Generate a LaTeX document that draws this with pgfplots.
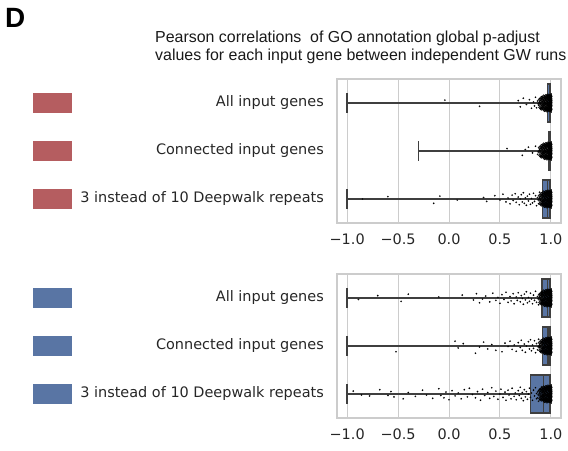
\documentclass[border=0pt]{standalone}
\usepackage{pgfplots}
\pgfplotsset{compat=1.18}
\usepackage{pgfplotstable}
\usepgfplotslibrary{statistics}
\usepackage{fontspec}
\setmainfont{DejaVu Sans}
\newfontfamily\arial{Liberation Sans}
\definecolor{boxblue}{HTML}{5975A4}
\definecolor{patchred}{HTML}{B55D60}
\definecolor{edgegray}{HTML}{3F3F3F}
\definecolor{gridgray}{HTML}{CCCCCC}
\definecolor{labelgray}{HTML}{262626}

% dense cluster near 1 (x, vertical jitter)
\pgfplotstableread{
x dy
0.885 0.02
0.890 -0.07
0.895 0.09
0.900 -0.03
0.905 0.12
0.908 -0.11
0.912 0.04
0.915 -0.06
0.918 0.10
0.920 0.05
0.922 -0.09
0.925 0.12
0.928 -0.02
0.930 -0.14
0.933 0.08
0.936 -0.06
0.938 0.15
0.940 0.01
0.942 -0.12
0.945 0.10
0.947 -0.04
0.950 0.14
0.952 -0.15
0.954 0.04
0.956 -0.09
0.958 0.11
0.960 -0.01
0.962 0.16
0.964 -0.13
0.966 0.07
0.968 -0.06
0.970 0.13
0.972 -0.16
0.974 0.02
0.976 -0.10
0.978 0.09
0.980 -0.03
0.982 0.15
0.984 -0.14
0.986 0.05
0.988 -0.07
0.990 0.12
0.991 -0.12
0.992 0.00
0.993 0.16
0.994 -0.05
0.995 0.08
0.996 -0.16
0.997 0.03
0.998 0.11
0.998 -0.09
0.999 -0.02
1.000 0.14
1.000 -0.13
1.000 0.06
1.000 -0.06
1.000 0.00
0.985 0.10
0.975 -0.12
0.965 0.02
0.955 0.12
0.945 -0.10
0.935 0.03
}\core

\pgfplotstableread{
x y
-0.04 -0.06
0.30 0.07
0.68 -0.05
0.70 0.08
0.73 -0.10
0.76 0.03
0.79 -0.07
0.81 0.11
0.83 -0.02
0.84 0.06
0.85 -0.12
0.86 0.10
0.87 -0.04
0.88 0.05
0.89 -0.09
0.90 0.01
0.90 0.12
0.91 -0.13
0.92 0.08
0.92 -0.03
0.57 0.95
0.72 1.09
0.75 0.97
0.78 0.92
0.82 1.04
0.85 0.90
0.87 1.07
0.89 0.98
0.90 1.11
0.91 0.94
0.92 1.03
0.93 0.88
-0.85 2.00
-0.60 1.95
-0.15 2.09
-0.09 1.94
0.08 2.02
0.34 1.97
0.37 2.05
0.45 1.93
0.50 2.02
0.53 1.90
0.56 2.06
0.58 1.98
0.60 2.10
0.62 1.92
0.63 2.03
0.65 1.89
0.66 2.07
0.68 1.96
0.69 2.12
0.70 2.00
0.71 1.91
0.72 2.06
0.73 1.87
0.74 2.09
0.75 1.98
0.76 2.13
0.77 1.94
0.78 2.04
0.79 1.90
0.80 2.11
0.81 1.99
0.82 2.08
0.83 1.88
0.84 2.05
0.85 1.93
0.86 2.14
0.87 1.97
0.88 2.10
0.89 1.86
0.90 2.02
}\toptail

\pgfplotstableread{
x y
-0.89 0.03
-0.70 -0.05
-0.47 0.07
-0.40 -0.08
-0.10 -0.02
0.13 -0.06
0.24 0.04
0.27 -0.09
0.30 0.10
0.33 0.02
0.36 -0.04
0.40 0.08
0.43 -0.10
0.46 0.05
0.48 -0.01
0.50 0.11
0.52 -0.07
0.54 0.03
0.56 -0.12
0.58 0.09
0.60 -0.03
0.61 0.06
0.63 -0.09
0.64 0.12
0.66 -0.02
0.67 0.05
0.68 -0.11
0.70 0.08
0.71 -0.05
0.72 0.01
0.73 0.13
0.74 -0.08
0.75 0.04
0.76 -0.13
0.77 0.10
0.78 -0.01
0.79 0.07
0.80 -0.10
0.81 0.02
0.82 0.12
0.83 -0.06
0.84 0.05
0.85 -0.14
0.86 0.09
0.87 -0.03
0.88 0.14
0.89 -0.08
0.90 0.04
0.91 -0.12
0.92 0.11
-0.52 1.12
0.06 0.90
0.09 1.04
0.14 0.95
0.26 1.15
0.30 1.02
0.34 0.92
0.38 1.06
0.42 0.97
0.46 1.09
0.52 1.12
0.55 0.94
0.58 1.01
0.60 0.90
0.62 1.07
0.64 0.98
0.66 1.11
0.68 0.93
0.70 1.03
0.71 0.88
0.72 1.09
0.74 0.96
0.75 1.13
0.76 1.00
0.78 0.91
0.79 1.06
0.80 0.87
0.81 1.10
0.82 0.98
0.83 1.05
0.84 0.89
0.85 1.14
0.86 0.95
0.87 1.08
0.88 0.86
0.89 1.02
0.90 1.12
0.91 0.92
0.92 1.04
-0.94 1.94
-0.86 2.02
-0.78 2.04
-0.68 1.91
-0.60 2.03
-0.57 1.95
-0.54 2.06
-0.45 2.10
-0.40 1.97
-0.33 2.05
-0.26 1.92
-0.22 2.02
-0.16 2.09
-0.10 1.89
-0.08 2.03
-0.05 2.08
-0.03 1.96
0.00 2.12
0.03 1.93
0.06 2.04
0.09 1.98
0.12 2.10
0.15 1.91
0.18 2.06
0.20 1.88
0.23 2.01
0.26 2.08
0.28 1.95
0.31 2.13
0.33 1.90
0.35 2.03
0.38 1.97
0.40 2.09
0.42 1.87
0.44 2.05
0.46 1.94
0.48 2.11
0.50 2.00
0.51 1.90
0.53 2.07
0.55 1.96
0.56 2.13
0.58 1.92
0.59 2.02
0.61 2.10
0.62 1.88
0.64 2.05
0.65 1.98
0.66 2.12
0.68 1.93
0.69 2.03
0.70 1.86
0.71 2.09
0.72 1.97
0.73 2.14
0.74 1.91
0.75 2.06
0.76 1.95
0.77 2.11
0.78 2.00
0.79 1.88
0.80 2.07
0.81 1.98
0.82 2.13
0.83 1.92
0.84 2.04
0.85 1.87
0.86 2.10
0.87 1.96
0.88 2.15
0.89 1.90
0.90 2.06
0.91 1.85
0.92 2.02
0.86 1.99
0.87 2.08
0.88 1.93
0.89 2.12
0.90 1.89
0.91 2.05
0.92 1.96
0.93 2.11
}\bottail

\pgfplotsset{
  panel/.style={
    anchor=south west, width=224bp, height=144bp, scale only axis,
    xmin=-1.1, xmax=1.1, ymin=-0.5, ymax=2.5, y dir=reverse,
    ytick={0,1,2},
    yticklabels={All input genes, Connected input genes, 3 instead of 10 Deepwalk repeats},
    xtick={-1,-0.5,0,0.5,1},
    xticklabels={−1.0,−0.5,0.0,0.5,1.0},
    major tick length=0pt,
    xmajorgrids,
    grid style={color=gridgray, line width=1bp},
    axis line style={color=gridgray, line width=1.25bp},
    tick label style={font=\fontsize{14.5}{17}\selectfont, text=labelgray},
    xticklabel style={anchor=north, inner sep=0pt, yshift=-11bp},
    yticklabel style={anchor=east, inner sep=0pt, xshift=-13bp},
    clip=false,
    boxplot/draw direction=x,
    boxplot/box extend=0.8,
    boxplot/whisker extend=0.4,
    boxplot/every box/.style={draw=edgegray, fill=boxblue, line width=1.5bp},
    boxplot/every median/.style={draw=edgegray, line width=1.5bp},
    boxplot/every whisker/.style={draw=edgegray, line width=1.8bp},
  },
  bx/.style={draw=edgegray, line width=1.5bp, solid, mark=none},
  tailpts/.style={only marks, mark=*, mark size=0.65bp, mark options={draw=none, fill=black!30}},
  corepts/.style={only marks, mark=*, mark size=1.6bp, mark options={draw=none, fill=black, fill opacity=0.7}},
}

\begin{document}
\begin{tikzpicture}
\useasboundingbox (0,0) rectangle (568bp,451bp);
\node[anchor=base west, inner sep=0pt, font=\arial\bfseries\fontsize{28}{30}\selectfont] at (5bp,423bp) {D};
\node[anchor=base west, inner sep=0pt, font=\arial\fontsize{16}{19}\selectfont, text=black!90] at (155bp,408bp) {Pearson correlations\ \ of GO annotation global p-adjust};
\node[anchor=base west, inner sep=0pt, font=\arial\fontsize{16}{19}\selectfont, text=black!90] at (155bp,390bp) {values for each input gene between independent GW runs};

% top panel
\begin{axis}[panel, at={(337bp,228bp)}]
\addplot[bx, boxplot prepared={lower whisker=-1, lower quartile=0.965, median=0.985, upper quartile=0.997, upper whisker=1.0, draw position=0}] coordinates {};
\addplot[bx, boxplot prepared={lower whisker=-0.3, lower quartile=0.978, median=0.992, upper quartile=0.998, upper whisker=1.0, draw position=1}] coordinates {};
\addplot[bx, boxplot prepared={lower whisker=-1, lower quartile=0.92, median=0.965, upper quartile=0.99, upper whisker=1.0, draw position=2}] coordinates {};
\addplot[tailpts] table[x=x, y=y] {\toptail};
\addplot[corepts] table[x=x, y expr=\thisrow{dy}] {\core};
\addplot[corepts] table[x=x, y expr=\thisrow{dy}+1] {\core};
\addplot[corepts] table[x=x, y expr=\thisrow{dy}+2] {\core};
\end{axis}

% bottom panel
\begin{axis}[panel, at={(337bp,33bp)}]
\addplot[bx, boxplot prepared={lower whisker=-1, lower quartile=0.915, median=0.965, upper quartile=0.99, upper whisker=1.0, draw position=0}] coordinates {};
\addplot[bx, boxplot prepared={lower whisker=-1, lower quartile=0.92, median=0.97, upper quartile=0.993, upper whisker=1.0, draw position=1}] coordinates {};
\addplot[bx, boxplot prepared={lower whisker=-1, lower quartile=0.80, median=0.93, upper quartile=0.99, upper whisker=1.0, draw position=2}] coordinates {};
\addplot[tailpts] table[x=x, y=y] {\bottail};
\addplot[corepts] table[x=x, y expr=\thisrow{dy}] {\core};
\addplot[corepts] table[x=x, y expr=\thisrow{dy}+1] {\core};
\addplot[corepts] table[x=x, y expr=\thisrow{dy}+2] {\core};
\end{axis}

% colour patches beside the row labels
\foreach \yc in {348,300,252} {\fill[patchred] (33bp,\yc bp-10bp) rectangle (72bp,\yc bp+10bp);}
\foreach \yc in {153,105,57} {\fill[boxblue] (33bp,\yc bp-10bp) rectangle (72bp,\yc bp+10bp);}
\end{tikzpicture}
\end{document}
